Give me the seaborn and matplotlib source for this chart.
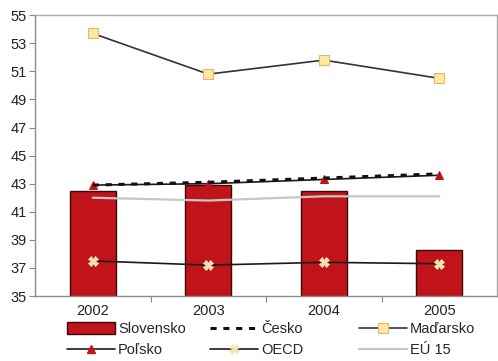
import numpy as np
import pandas as pd
import matplotlib
matplotlib.use("Agg")
import matplotlib.pyplot as plt
import seaborn as sns
from matplotlib.patches import Patch
from matplotlib.lines import Line2D

sns.set_theme(style="white")
plt.rcParams["font.family"] = ["Liberation Sans", "DejaVu Sans"]

years = ["2002", "2003", "2004", "2005"]
slovensko = [42.5, 42.9, 42.5, 38.3]
cesko = [42.9, 43.1, 43.4, 43.7]
madarsko = [53.7, 50.8, 51.8, 50.5]
polsko = [42.9, 43.0, 43.3, 43.6]
oecd = [37.5, 37.2, 37.4, 37.3]
eu15 = [42.0, 41.8, 42.1, 42.1]
y_ticks = list(range(35, 56, 2))

df = pd.DataFrame({"rok": years, "Slovensko": slovensko})
pos = np.arange(len(years))

fig = plt.figure(figsize=(4.98, 3.61), dpi=100)
ax = fig.add_axes([0.0703, 0.18, 0.928, 0.778])

bar_color = "#C0141A"
bar_edge = "#3a0a0a"
sq_face, sq_edge = "#FFE9A0", "#E3B86A"
x_face, x_edge = "#F3E3A6", "#F8EFCF"

sns.barplot(data=df, x="rok", y="Slovensko", color=bar_color, width=0.4,
            edgecolor=bar_edge, linewidth=1.0, saturation=1, ax=ax)

sns.lineplot(x=pos, y=eu15, color="#C6C6C6", linewidth=1.6, ax=ax)
sns.lineplot(x=pos, y=oecd, color="#1a1a1a", linewidth=1.2, ax=ax,
             marker="X", markersize=7, markerfacecolor=x_face,
             markeredgecolor=x_edge, markeredgewidth=0.5)
sns.lineplot(x=pos, y=polsko, color="#1a1a1a", linewidth=1.2, ax=ax,
             marker="^", markersize=6, markerfacecolor=bar_color,
             markeredgecolor=bar_color)
sns.lineplot(x=pos, y=cesko, color="#111111", linewidth=2.2, ax=ax)
ax.lines[-1].set_dashes([2.0, 2.2])
sns.lineplot(x=pos, y=madarsko, color="#333333", linewidth=1.2, ax=ax,
             marker="s", markersize=6.5, markerfacecolor=sq_face,
             markeredgecolor=sq_edge, markeredgewidth=0.8)

ax.set_xlim(-0.5, len(years) - 0.5)
ax.set_ylim(35, 55)
ax.set_yticks(y_ticks)
ax.set_xticks(pos)
ax.set_xticklabels(years)
ax.set_xlabel("")
ax.set_ylabel("")
ax.set_xticks(np.arange(0.5, len(years) - 0.5, 1), minor=True)
ax.tick_params(axis="x", which="major", length=0, pad=6, labelsize=10.5, colors="#222222")
ax.tick_params(axis="x", which="minor", length=4, width=0.8, color="#888888", direction="out", bottom=True)
ax.tick_params(axis="y", which="major", length=4, width=0.8, color="#888888", direction="out",
               left=True, pad=2, labelsize=10.5, labelcolor="#222222")
for side in ["top", "right"]:
    ax.spines[side].set_color("#A8A8A8")
    ax.spines[side].set_linewidth(1.0)
for side in ["left", "bottom"]:
    ax.spines[side].set_color("#8a8a8a")
    ax.spines[side].set_linewidth(1.0)
ax.grid(False)

# Legend: three columns of two entries, each placed on its own
columns = [
    ([Patch(facecolor=bar_color, edgecolor=bar_edge, linewidth=1.0),
      Line2D([], [], color="#1a1a1a", linewidth=1.2, marker="^", markersize=6,
             markerfacecolor=bar_color, markeredgecolor=bar_color)],
     ["Slovensko", "Poľsko"], 67),
    ([Line2D([], [], color="#111111", linewidth=2.2, dashes=[2.0, 2.2]),
      Line2D([], [], color="#1a1a1a", linewidth=1.2, marker="X", markersize=7,
             markerfacecolor=x_face, markeredgecolor=x_edge, markeredgewidth=0.5)],
     ["Česko", "OECD"], 210),
    ([Line2D([], [], color="#333333", linewidth=1.2, marker="s", markersize=6.5,
             markerfacecolor=sq_face, markeredgecolor=sq_edge, markeredgewidth=0.8),
      Line2D([], [], color="#C6C6C6", linewidth=1.6)],
     ["Maďarsko", "EÚ 15"], 359),
]
for handles, labels, x_px in columns:
    leg = fig.legend(handles, labels, ncol=1, loc="upper left",
                     bbox_to_anchor=(x_px / 498, 1 - 322 / 361),
                     frameon=False, fontsize=10.5, handlelength=3.3, handleheight=0.9,
                     handletextpad=0.2, labelspacing=0.5, borderpad=0, borderaxespad=0)

fig.savefig("out.png", dpi=100, facecolor="white")
